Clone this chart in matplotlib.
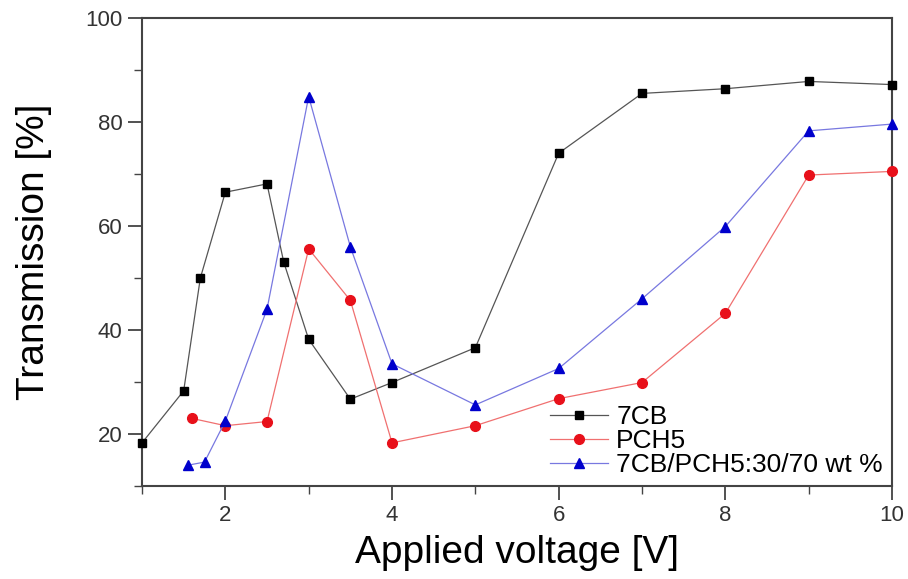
import matplotlib
matplotlib.use("Agg")
import matplotlib.pyplot as plt
from matplotlib.ticker import MultipleLocator

plt.rcParams['font.family'] = ['Liberation Sans', 'DejaVu Sans']

# 7CB
x_7cb = [1, 1.5, 1.7, 2, 2.5, 2.7, 3, 3.5, 4, 5, 6, 7, 8, 9, 10]
y_7cb = [18.3, 28.3, 50.0, 66.5, 68.1, 53.1, 38.2, 26.7, 29.9, 36.6, 74.0, 85.5, 86.4, 87.8, 87.2]

# PCH5
x_pch5 = [1.6, 2, 2.5, 3, 3.5, 4, 5, 6, 7, 8, 9, 10]
y_pch5 = [23.0, 21.6, 22.4, 55.6, 45.7, 18.3, 21.6, 26.8, 29.9, 43.2, 69.8, 70.5]

# 7CB/PCH5 mixture
x_mix = [1.55, 1.75, 2, 2.5, 3, 3.5, 4, 5, 6, 7, 8, 9, 10]
y_mix = [14.0, 14.6, 22.5, 44.0, 84.9, 56.0, 33.5, 25.6, 32.6, 46.0, 59.9, 78.3, 79.6]

labels = ["7CB", "PCH5", "7CB/PCH5:30/70 wt %"]

fig = plt.figure(figsize=(9.08, 5.79), dpi=100)
ax = fig.add_axes([0.1564, 0.1606, 0.8260, 0.8083])

ax.plot(x_7cb, y_7cb, color='#555555', lw=0.9, marker='s', ms=6,
        mfc='black', mec='black', label=labels[0], clip_on=False, zorder=3)
ax.plot(x_pch5, y_pch5, color='#f07070', lw=0.9, marker='o', ms=7,
        mfc='#e8101a', mec='#e8101a', label=labels[1], clip_on=False, zorder=3)
ax.plot(x_mix, y_mix, color='#7878e0', lw=0.9, marker='^', ms=7.5,
        mfc='#0000cc', mec='#0000cc', label=labels[2], clip_on=False, zorder=3)

ax.set_xlim(1, 10)
ax.set_ylim(10, 100)
ax.xaxis.set_minor_locator(MultipleLocator(1))
ax.yaxis.set_minor_locator(MultipleLocator(10))
ax.set_yticks([20, 40, 60, 80, 100])
ax.set_xticks([2, 4, 6, 8, 10])
ax.tick_params(which='major', direction='out', length=10, width=1.2, pad=4,
               labelsize=16, colors='#333333')
ax.tick_params(which='minor', direction='out', length=6, width=1.0, colors='#444444')
for s in ax.spines.values():
    s.set_linewidth(1.5)
    s.set_color('#444444')

ax.set_xlabel("Applied voltage [V]", fontsize=28, labelpad=6)
ax.set_ylabel("Transmission [%]", fontsize=28, labelpad=24)

leg = ax.legend(loc='lower right', frameon=False, fontsize=19, handlelength=2.2,
                handletextpad=0.3, labelspacing=0.0, borderaxespad=0.15,
                borderpad=0.2)

fig.savefig("out.png", dpi=100)
